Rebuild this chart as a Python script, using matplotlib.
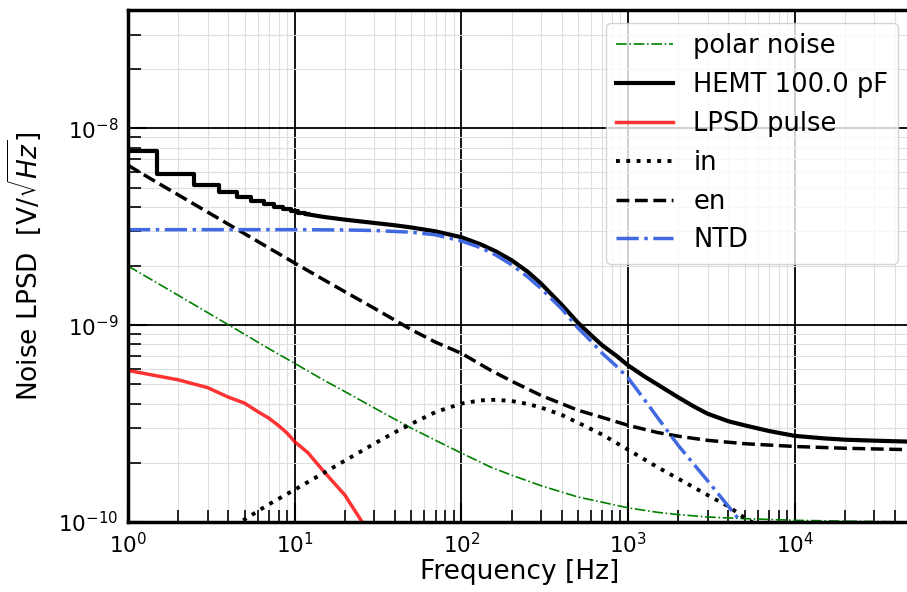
import matplotlib
matplotlib.use('Agg')
import matplotlib.pyplot as plt

# noise contributions, amplitude spectral density in V/sqrt(Hz)
polar_f = [1, 2, 3, 5, 7, 10, 15, 20, 30, 50, 70, 100, 150, 200, 300, 500, 700, 1000,
           1500, 2000, 3000, 5000, 1e4, 2e4, 5e4]
polar_v = [2.0e-9, 1.42e-9, 1.16e-9, 9.0e-10, 7.6e-10, 6.4e-10, 5.25e-10, 4.6e-10, 3.8e-10,
           3.0e-10, 2.6e-10, 2.24e-10, 1.9e-10, 1.73e-10, 1.53e-10, 1.34e-10, 1.26e-10,
           1.18e-10, 1.12e-10, 1.09e-10, 1.06e-10, 1.04e-10, 1.02e-10, 1.01e-10, 1.0e-10]

# total HEMT noise, binned at 1 Hz at low frequency
hemt_f_lo = [1, 2, 3, 4, 5, 6, 7, 8, 9, 10, 11, 12]
hemt_v_lo = [7.67e-9, 5.90e-9, 5.18e-9, 4.76e-9, 4.46e-9, 4.26e-9, 4.11e-9, 4.00e-9,
             3.89e-9, 3.79e-9, 3.72e-9, 3.66e-9]
hemt_f_hi = [12, 15, 20, 30, 40, 50, 70, 100, 130, 160, 200, 250, 300, 400, 500, 600,
             700, 850, 1000, 1250, 1500, 2000, 2500, 3000, 4000, 5000, 7000, 1e4, 1.5e4,
             2e4, 3e4, 5e4]
hemt_v_hi = [3.66e-9, 3.55e-9, 3.44e-9, 3.31e-9, 3.22e-9, 3.14e-9, 3.00e-9, 2.80e-9,
             2.58e-9, 2.38e-9, 2.14e-9, 1.87e-9, 1.63e-9, 1.27e-9, 1.03e-9, 8.9e-10,
             7.9e-10, 7.0e-10, 6.25e-10, 5.5e-10, 5.0e-10, 4.3e-10, 3.85e-10, 3.55e-10,
             3.25e-10, 3.1e-10, 2.9e-10, 2.74e-10, 2.66e-10, 2.62e-10, 2.59e-10, 2.56e-10]

pulse_f = [1, 2, 3, 4, 5, 6, 7, 8, 9, 10, 12, 15, 20, 25, 30]
pulse_v = [5.89e-10, 5.28e-10, 4.82e-10, 4.31e-10, 4.02e-10, 3.64e-10, 3.37e-10, 3.09e-10,
           2.83e-10, 2.56e-10, 2.25e-10, 1.80e-10, 1.37e-10, 1.02e-10, 0.78e-10]

in_f = [3, 5, 7, 10, 15, 20, 30, 40, 50, 70, 100, 130, 160, 200, 250, 300, 400, 500, 700,
        1000, 1500, 2000, 3000, 4000, 5000, 7000]
in_v = [0.80e-10, 1.03e-10, 1.23e-10, 1.46e-10, 1.78e-10, 2.05e-10, 2.50e-10, 2.86e-10,
        3.15e-10, 3.62e-10, 4.00e-10, 4.15e-10, 4.18e-10, 4.12e-10, 3.98e-10, 3.82e-10,
        3.50e-10, 3.20e-10, 2.78e-10, 2.33e-10, 1.90e-10, 1.66e-10, 1.37e-10, 1.20e-10,
        1.05e-10, 0.89e-10]

en_f = [1, 1.5, 2, 3, 5, 7, 10, 15, 20, 30, 50, 70, 100, 150, 200, 300, 500, 700, 1000,
        1500, 2000, 3000, 5000, 1e4, 2e4, 5e4]
en_v = [6.5e-9, 5.3e-9, 4.6e-9, 3.76e-9, 2.92e-9, 2.47e-9, 2.07e-9, 1.70e-9, 1.48e-9,
        1.22e-9, 9.5e-10, 8.2e-10, 7.2e-10, 5.9e-10, 5.2e-10, 4.4e-10, 3.7e-10, 3.4e-10,
        3.1e-10, 2.85e-10, 2.73e-10, 2.6e-10, 2.5e-10, 2.42e-10, 2.37e-10, 2.33e-10]

ntd_f = [1, 10, 20, 30, 50, 70, 100, 130, 160, 200, 250, 300, 400, 500, 600, 700, 850,
         1000, 1250, 1500, 2000, 2500, 3000, 4000, 5000, 7000]
ntd_v = [3.06e-9, 3.06e-9, 3.05e-9, 3.03e-9, 2.97e-9, 2.88e-9, 2.68e-9, 2.48e-9, 2.28e-9,
         2.03e-9, 1.76e-9, 1.54e-9, 1.21e-9, 9.7e-10, 8.3e-10, 7.2e-10, 6.2e-10, 5.4e-10,
         4.2e-10, 3.4e-10, 2.45e-10, 1.95e-10, 1.62e-10, 1.2e-10, 0.95e-10, 0.68e-10]

fig = plt.figure(figsize=(9.07, 5.92), dpi=100)
ax = fig.add_axes([128/907, 70/592, 783.3/907, 512/592])

ax.plot(polar_f, polar_v, color='green', ls='-.', lw=1.2, label='polar noise')
ax.plot(hemt_f_lo, hemt_v_lo, color='k', lw=3, drawstyle='steps-mid', label='HEMT 100.0 pF')
ax.plot(hemt_f_hi, hemt_v_hi, color='k', lw=3)
ax.plot(pulse_f, pulse_v, color='red', alpha=0.8, lw=2.5, label='LPSD pulse')
ax.plot(in_f, in_v, 'k:', lw=2.8, label='in')
ax.plot(en_f, en_v, 'k--', lw=2.5, label='en')
ax.plot(ntd_f, ntd_v, color='royalblue', ls='-.', lw=2.5, label='NTD')

ax.set_xscale('log')
ax.set_yscale('log')
ax.set_xlim(1, 5e4)
ax.set_ylim(1e-10, 4e-8)

ax.set_axisbelow(True)
ax.grid(True, which='major', color='black', lw=1.3)
ax.grid(True, which='minor', color='0.87', lw=0.8)
ax.tick_params(which='both', direction='in', labelsize=15.5, pad=7)
ax.tick_params(which='major', length=14, width=1.5)
ax.tick_params(which='minor', length=9, width=1.2)
for s in ax.spines.values():
    s.set_linewidth(2.5)

ax.set_xlabel('Frequency [Hz]', fontsize=19)
ax.set_ylabel(r'Noise LPSD  [V/$\sqrt{Hz}$]', fontsize=19)
ax.xaxis.set_label_coords(0.5, -0.072)
ax.yaxis.set_label_coords(-0.108, 0.5)
ax.legend(loc='upper right', fontsize=18.5, handlelength=2.2)

fig.savefig('out.png', dpi=100)
